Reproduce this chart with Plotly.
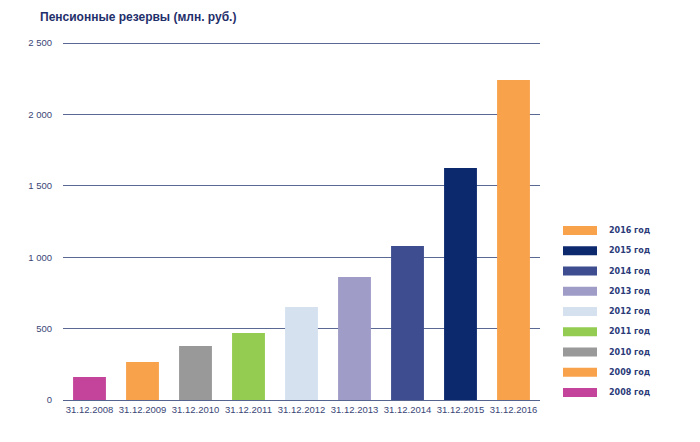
import plotly.graph_objects as go

categories = ["31.12.2008", "31.12.2009", "31.12.2010", "31.12.2011", "31.12.2012",
              "31.12.2013", "31.12.2014", "31.12.2015", "31.12.2016"]
values = [161, 266, 378, 469, 651, 861, 1078, 1625, 2241]
legend_labels = ["2008 год", "2009 год", "2010 год", "2011 год", "2012 год",
                 "2013 год", "2014 год", "2015 год", "2016 год"]
colors = ["#c4449b", "#f8a24b", "#999999", "#93cc50", "#d6e1f0",
          "#9f9dc7", "#3d4d8f", "#0c296e", "#f8a24b"]
y_ticks = [0, 500, 1000, 1500, 2000, 2500]

W, H = 700, 442
L, R, T, B = 63, 160, 37, 42
pw, ph = W - L - R, H - T - B
y_top = 2500 * ph / 357.0

def px(x):
    return (x - L) / pw

def py(y):
    return (H - B - y) / ph

fig = go.Figure()
fig.add_trace(go.Bar(x=categories, y=values, marker=dict(color=colors, line=dict(width=0)),
                     width=0.62, showlegend=False, hoverinfo="x+y"))

shapes = []
annotations = []
# custom legend (top entry = last year)
row0, step = 230.5, 20.25
for i, (lab, col) in enumerate(zip(reversed(legend_labels), reversed(colors))):
    yc = row0 + i * step
    shapes.append(dict(type="rect", xref="paper", yref="paper",
                       x0=px(563), x1=px(597), y0=py(yc + 4.5), y1=py(yc - 4.5),
                       fillcolor=col, line=dict(width=0)))
    annotations.append(dict(text="<b>" + lab + "</b>", xref="paper", yref="paper",
                            x=px(607), y=py(yc), xanchor="left", yanchor="middle",
                            showarrow=False, font=dict(size=8, color="#2b3a78",
                                                       family="DejaVu Sans")))

annotations.append(dict(text="<b>Пенсионные резервы (млн. руб.)</b>", xref="paper", yref="paper",
                        x=px(38), y=py(17), xanchor="left", yanchor="middle", showarrow=False,
                        font=dict(size=12, color="#1f2f6b", family="Liberation Sans")))

fig.update_layout(
    width=W, height=H,
    margin=dict(l=L, r=R, t=T, b=B),
    paper_bgcolor="white", plot_bgcolor="white",
    separators=", ",
    shapes=shapes, annotations=annotations,
    xaxis=dict(showgrid=False, showline=True, linecolor="#55648f", linewidth=1.2,
               ticks="", tickfont=dict(size=9.5, color="#3a4676", family="Liberation Sans"),
               fixedrange=True),
    yaxis=dict(range=[0, y_top], tickvals=y_ticks, tickformat=",d",
               showgrid=True, gridcolor="#5a6894", gridwidth=1.1, zeroline=False,
               ticks="", ticklabelstandoff=10,
               tickfont=dict(size=9.5, color="#3a4676", family="Liberation Sans"),
               fixedrange=True),
    font=dict(family="Liberation Sans"),
)

fig.write_html("out.html")
